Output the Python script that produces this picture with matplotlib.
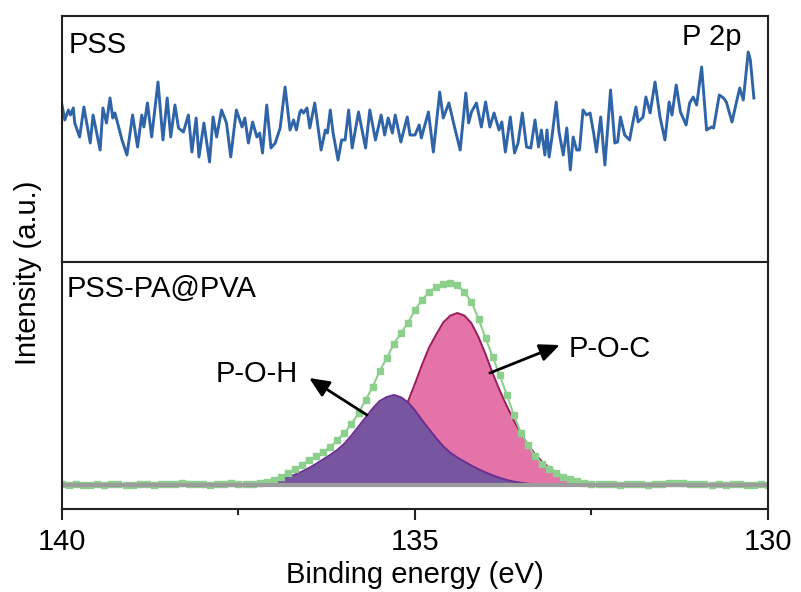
import numpy as np
import matplotlib
matplotlib.use("Agg")
import matplotlib.pyplot as plt

plt.rcParams['font.family'] = ['Liberation Sans', 'DejaVu Sans']

# PSS survey (top panel): (binding energy, intensity)
pss_points = [
    (140.00, 157), (139.96, 142), (139.91, 152), (139.88, 147), (139.84, 154), (139.82, 139),
    (139.75, 125), (139.69, 155), (139.60, 119), (139.56, 147), (139.46, 112), (139.42, 154),
    (139.37, 139), (139.32, 164), (139.28, 144), (139.25, 149), (139.15, 122), (139.08, 107),
    (139.00, 147), (138.93, 115), (138.87, 147), (138.84, 135), (138.79, 159), (138.73, 125),
    (138.64, 180), (138.57, 122), (138.51, 164), (138.46, 125), (138.40, 157), (138.35, 134),
    (138.28, 130), (138.21, 147), (138.16, 110), (138.10, 144), (138.06, 105), (137.99, 139),
    (137.91, 100), (137.86, 145), (137.81, 125), (137.74, 152), (137.67, 139), (137.61, 105),
    (137.53, 152), (137.45, 135), (137.41, 144), (137.36, 119), (137.30, 140), (137.24, 125),
    (137.20, 129), (137.16, 109), (137.10, 157), (137.04, 114), (136.98, 119), (136.91, 134),
    (136.84, 175), (136.77, 132), (136.72, 142), (136.68, 132), (136.63, 150), (136.61, 152),
    (136.58, 149), (136.53, 154), (136.49, 134), (136.42, 159), (136.33, 112), (136.27, 132),
    (136.24, 129), (136.20, 152), (136.16, 129), (136.09, 102), (136.04, 122), (135.99, 122),
    (135.94, 152), (135.89, 114), (135.80, 150), (135.70, 114), (135.64, 152), (135.56, 122),
    (135.48, 147), (135.43, 127), (135.38, 144), (135.32, 129), (135.28, 147), (135.20, 120),
    (135.11, 145), (135.07, 127), (135.00, 127), (134.94, 137), (134.91, 124), (134.81, 150),
    (134.74, 110), (134.65, 170), (134.60, 144), (134.52, 159), (134.44, 135), (134.36, 112),
    (134.28, 169), (134.24, 139), (134.20, 150), (134.13, 159), (134.06, 135), (134.00, 160),
    (133.94, 135), (133.88, 149), (133.81, 132), (133.77, 140), (133.72, 110), (133.65, 145),
    (133.59, 109), (133.54, 119), (133.48, 149), (133.42, 115), (133.36, 114), (133.30, 142),
    (133.25, 115), (133.21, 132), (133.16, 107), (133.13, 132), (133.10, 105), (133.06, 125),
    (133.00, 160), (132.96, 130), (132.90, 107), (132.85, 134), (132.80, 92), (132.76, 125),
    (132.71, 112), (132.67, 112), (132.62, 152), (132.57, 147), (132.52, 149), (132.47, 129),
    (132.43, 110), (132.37, 145), (132.31, 97), (132.23, 172), (132.17, 119), (132.13, 120),
    (132.09, 145), (132.03, 127), (131.96, 122), (131.93, 134), (131.87, 155), (131.84, 140),
    (131.77, 145), (131.73, 165), (131.67, 149), (131.60, 180), (131.53, 145), (131.46, 122),
    (131.40, 160), (131.36, 147), (131.30, 177), (131.24, 150), (131.16, 137), (131.11, 159),
    (131.06, 165), (131.01, 157), (130.94, 195), (130.87, 132), (130.80, 135), (130.77, 134),
    (130.69, 167), (130.63, 164), (130.59, 160), (130.51, 140), (130.45, 159), (130.40, 174),
    (130.35, 162), (130.28, 210), (130.25, 202), (130.20, 164),
]
pss_energy = [p[0] for p in pss_points]
pss_intensity = [p[1] for p in pss_points]

# PSS-PA@PVA (bottom panel), sampled every 0.1 eV from 140 to 130
energy = np.round(np.arange(140.0, 129.95, -0.1), 1)

measured = [
    0.6, 0.4, 0.7, 0.3, 0.5, 0.8, 0.4, 0.6, 0.9, 0.5,
    0.3, 0.6, 0.8, 0.4, 0.7, 0.9, 1.2, 2.0, 1.0, 0.6,
    0.8, 0.5, 0.9, 1.2, 2.5, 1.5, 1.2, 1.5, 2.2, 3.2,
    5, 8, 12, 16, 20, 25, 29, 33, 38, 45,
    52, 61, 72, 85, 98, 114, 127, 141, 152, 162,
    175, 185, 193, 198, 201, 202, 200, 193, 183, 166,
    147, 128, 110, 90, 70, 52, 40, 29, 21, 16,
    12, 8.5, 6, 4, 2.5, 1.5, 1.0, 0.6, 0.8, 0.5,
    0.6, 0.9, 0.7, 0.5, 0.8, 1.2, 1.6, 2.0, 1.6, 1.0,
    0.6, 0.8, 0.5, 0.7, 0.4, 0.6, 0.8, 0.5, 0.4, 0.6,
    0.5,
]

poh_peak = [
    0, 0, 0, 0, 0, 0, 0, 0, 0, 0,
    0, 0, 0, 0, 0, 0, 0, 0, 0, 0,
    0, 0, 0, 0, 0, 0, 0.4, 0.7, 1.4, 2.3,
    3.6, 5.4, 7.7, 10.4, 13.5, 17.1, 21.2, 25.7, 30.2, 35.1,
    41.4, 49.5, 58.5, 67.5, 76.5, 84, 88, 90, 87.8, 82.8,
    74.7, 64.8, 55.8, 46.8, 38.7, 32.4, 27.5, 23.4, 19.4, 15.8,
    12.6, 9.7, 7.2, 5.0, 3.4, 2.2, 1.3, 0.7, 0.3, 0,
    0, 0, 0, 0, 0, 0, 0, 0, 0, 0,
    0, 0, 0, 0, 0, 0, 0, 0, 0, 0,
    0, 0, 0, 0, 0, 0, 0, 0, 0, 0,
    0,
]

poc_peak = [
    0, 0, 0, 0, 0, 0, 0, 0, 0, 0,
    0, 0, 0, 0, 0, 0, 0, 0, 0, 0,
    0, 0, 0, 0, 0, 0, 0, 0, 0, 0,
    0, 0, 0, 0, 0, 0, 0, 0.9, 1.7, 3.4,
    6.0, 9.3, 13.4, 18.6, 25.5, 33.9, 43.9, 55.0, 67.9, 83.4,
    101.5, 120.4, 137.6, 150.5, 162.5, 169.4, 172, 169.4, 161.7, 147.9,
    130.7, 111.8, 94.6, 79.1, 64.5, 51.6, 40.4, 31.0, 23.2, 17.2,
    12.4, 8.6, 5.8, 3.8, 2.2, 1.2, 0.5, 0, 0, 0,
    0, 0, 0, 0, 0, 0, 0, 0, 0, 0,
    0, 0, 0, 0, 0, 0, 0, 0, 0, 0,
    0,
]

baseline = np.zeros(len(energy))

fig = plt.figure(figsize=(8.01, 5.92), dpi=100)
ax_top = fig.add_axes([0.0774, 0.5574, 0.8814, 0.4156])
ax_bot = fig.add_axes([0.0774, 0.1402, 0.8814, 0.4172], sharex=ax_top)

# top: PSS
ax_top.plot(pss_energy, pss_intensity, color='#2f64a8', lw=2.1)
ax_top.set_ylim(0, 246)
ax_top.text(0.009, 0.85, 'PSS', transform=ax_top.transAxes, fontsize=21, va='baseline', ha='left')
ax_top.text(0.963, 0.882, 'P 2p', transform=ax_top.transAxes, fontsize=21, va='baseline', ha='right')

# bottom: fitted components (P-O-H drawn over P-O-C), then data and baseline
ax_bot.fill_between(energy, 0, poc_peak, color='#e474a8', lw=0, zorder=1.0)
ax_bot.plot(energy, poc_peak, color='#9c1a5c', lw=1.4, zorder=1.1)
ax_bot.fill_between(energy, 0, poh_peak, color='#77569f', lw=0, zorder=1.2)
ax_bot.plot(energy, poh_peak, color='#6b2d92', lw=1.4, zorder=1.3)
ax_bot.plot(energy, measured, '-s', color='#8dcf8d', lw=1.5, ms=4.2, mec='#8dcf8d', zorder=2.0)
ax_bot.plot(energy, baseline, color='#9c9c9c', lw=3, zorder=2.1)
ax_bot.set_ylim(-24, 223)
ax_bot.text(0.007, 0.858, 'PSS-PA@PVA', transform=ax_bot.transAxes, fontsize=21, va='baseline', ha='left')

arrow = dict(arrowstyle='-|>,head_length=0.5,head_width=0.22', color='black', lw=2.0,
             mutation_scale=24, shrinkA=0, shrinkB=0)
ax_bot.annotate('', xy=(136.50, 107), xytext=(135.68, 70), arrowprops=arrow, zorder=3)
ax_bot.text(137.83, 103, 'P-O-H', fontsize=21, va='baseline', ha='left')
ax_bot.annotate('', xy=(132.95, 140), xytext=(133.94, 112), arrowprops=arrow, zorder=3)
ax_bot.text(132.83, 128, 'P-O-C', fontsize=21, va='baseline', ha='left')

ax_bot.set_xlim(140, 130)
ax_bot.set_xticks([140, 135, 130])
ax_bot.set_xticks([137.5, 132.5], minor=True)
ax_bot.tick_params(axis='x', which='major', direction='out', length=8, width=1.5,
                   labelsize=21, pad=6, color='#222222')
ax_bot.tick_params(axis='x', which='minor', direction='out', length=4, width=1.5, color='#222222')
ax_bot.set_xlabel('Binding energy (eV)', fontsize=21, labelpad=3)

for ax in (ax_top, ax_bot):
    ax.set_yticks([])
    for sp in ax.spines.values():
        sp.set_linewidth(1.5)
        sp.set_color('#222222')
ax_top.tick_params(axis='x', which='both', length=0, labelbottom=False)

fig.text(0.035, 0.54, 'Intensity (a.u.)', rotation=90, fontsize=21, ha='center', va='center')

fig.savefig('out.png', dpi=100)
